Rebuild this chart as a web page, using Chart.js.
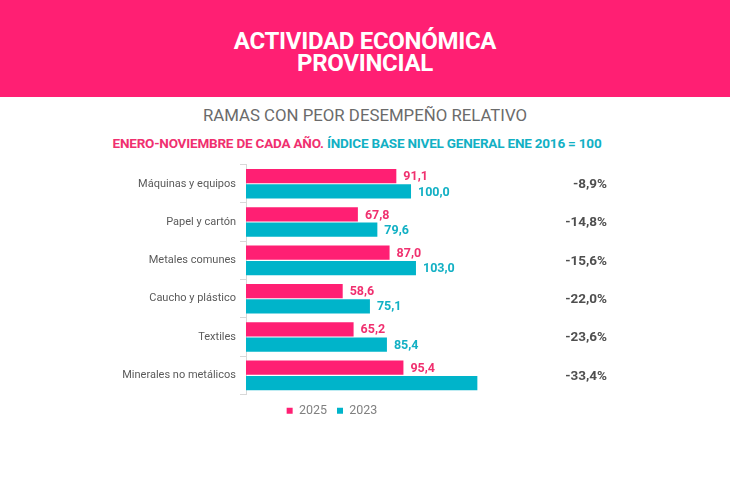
<!DOCTYPE html>
<html><head><meta charset="utf-8">
<script src="https://cdn.jsdelivr.net/npm/chart.js@4.4.1/dist/chart.umd.min.js"></script>
<style>
html,body{margin:0;padding:0;background:#fff;width:730px;height:498px;overflow:hidden;font-family:Roboto,"Open Sans",sans-serif;}
#hdr{position:absolute;left:0;top:0;width:730px;height:97px;background:#FF1F73;}
#t1{position:absolute;left:0;width:730px;top:30px;text-align:center;color:#fff;font-weight:700;font-size:24px;line-height:22px;letter-spacing:-0.3px;}
#s1{position:absolute;left:0;width:730px;top:106px;text-align:center;color:#6b6b6b;font-size:16.8px;line-height:18px;}
#s2{position:absolute;left:-8px;width:730px;top:135px;text-align:center;font-weight:700;font-size:13.5px;line-height:16px;letter-spacing:-0.2px;}
#wrap{position:absolute;left:0;top:154px;width:730px;height:273px;}
</style></head>
<body>
<div id="hdr"></div>
<div id="t1">ACTIVIDAD ECONÓMICA<br>PROVINCIAL</div>
<div id="s1">RAMAS CON PEOR DESEMPEÑO RELATIVO</div>
<div id="s2"><span style="color:#F0306F">ENERO-NOVIEMBRE DE CADA AÑO.</span> <span style="color:#12B0C4">ÍNDICE BASE NIVEL GENERAL ENE 2016 = 100</span></div>
<div id="wrap"><canvas id="c"></canvas></div>
<script>
const categories = ["Máquinas y equipos","Papel y cartón","Metales comunes","Caucho y plástico","Textiles","Minerales no metálicos"];
const values2025 = [91.1, 67.8, 87.0, 58.6, 65.2, 95.4];
const values2023 = [100.0, 79.6, 103.0, 75.1, 85.4, 140.2];
const labels2023Shown = [true, true, true, true, true, false];
const variation = ["-8,9%","-14,8%","-15,6%","-22,0%","-23,6%","-33,4%"];

const PINK = "#FF1F73", CYAN = "#00B4CA";
const fmt = v => v.toFixed(1).replace(".", ",");

const labelPlugin = {
  id: "labels",
  afterDatasetsDraw(chart) {
    const ctx = chart.ctx;
    ctx.save();
    ctx.font = "700 12.5px Roboto";
    ctx.textBaseline = "middle";
    ctx.textAlign = "left";
    chart.data.datasets.forEach((ds, di) => {
      const meta = chart.getDatasetMeta(di);
      meta.data.forEach((bar, i) => {
        if (di === 1 && !labels2023Shown[i]) return;
        ctx.fillStyle = di === 0 ? "#F0306F" : "#12B0C4";
        ctx.fillText(fmt(ds.data[i]), bar.x + 7, bar.y + 1);
      });
    });
    const ys = chart.scales.y;
    ctx.font = "700 13.5px Roboto";
    ctx.fillStyle = "#4f4f4f";
    ctx.textAlign = "right";
    categories.forEach((c, i) => {
      ctx.fillText(variation[i], chart.chartArea.right - 57, ys.getPixelForValue(i) + 1);
    });
    ctx.restore();
  }
};

new Chart(document.getElementById("c"), {
  type: "bar",
  data: {
    labels: categories,
    datasets: [
      { label: "2025", data: values2025, backgroundColor: PINK },
      { label: "2023", data: values2023, backgroundColor: CYAN }
    ]
  },
  options: {
    indexAxis: "y",
    responsive: true,
    maintainAspectRatio: false,
    animation: false,
    layout: { padding: { top: 1, right: 66, bottom: 0, left: 0 } },
    datasets: { bar: { categoryPercentage: 0.8, barPercentage: 0.93 } },
    scales: {
      x: { display: false, min: 0, max: 253.3 },
      y: {
        afterFit(s) { s.width = 246; },
        grid: { display: true, drawOnChartArea: false, offset: true, tickLength: 6, color: "#d8d8d8" },
        border: { display: true, color: "#d8d8d8" },
        ticks: { color: "#5a5a5a", font: { family: "Roboto", size: 11 }, padding: 4 }
      }
    },
    plugins: {
      legend: {
        position: "bottom",
        labels: { boxWidth: 6, boxHeight: 6, color: "#808080", font: { family: "Roboto", size: 12.5 }, padding: 10 }
      },
      tooltip: { enabled: false }
    }
  },
  plugins: [labelPlugin]
});
</script>
</body></html>
